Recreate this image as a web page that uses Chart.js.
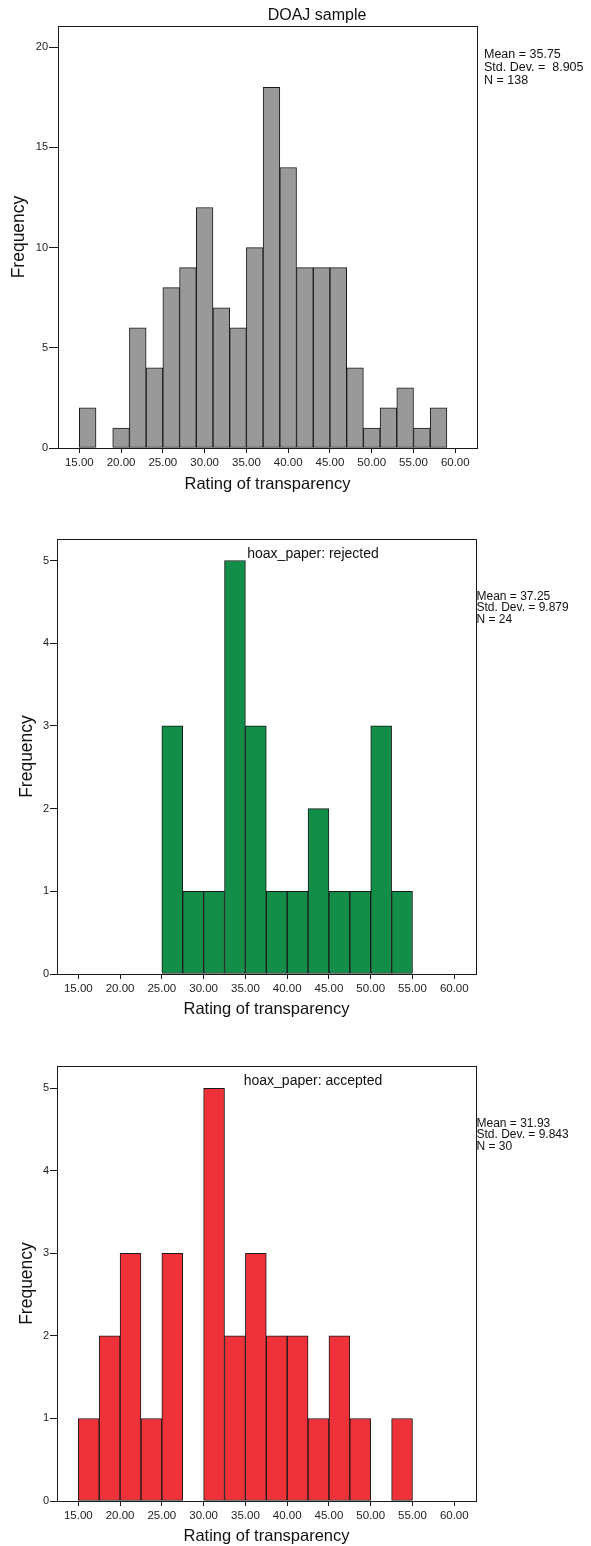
<!DOCTYPE html>
<html>
<head>
<meta charset="utf-8">
<script src="https://cdn.jsdelivr.net/npm/chart.js@4.4.1/dist/chart.umd.min.js"></script>
<style>
  body { margin: 0; background: #fff; width: 591px; height: 1546px; position: relative; overflow: hidden; }
  canvas { position: absolute; left: 0; }
</style>
</head>
<body>
<canvas id="doaj" width="591" height="505" style="top:0px"></canvas>
<canvas id="rejected" width="591" height="510" style="top:515px"></canvas>
<canvas id="accepted" width="591" height="506" style="top:1040px"></canvas>
<script>
// bins: first bin start and width, then counts per bin
const doajBinStart = 15;
const doajBinWidth = 2;
const doajCounts = [2, 0, 1, 6, 4, 8, 9, 12, 7, 6, 10, 18, 14, 9, 9, 9, 4, 1, 2, 3, 1, 2];

const hoaxBinStart = 15;
const hoaxBinWidth = 2.5;
const rejectedCounts = [0, 0, 0, 0, 3, 1, 1, 5, 3, 1, 1, 2, 1, 1, 3, 1];
const acceptedCounts = [1, 2, 3, 1, 3, 0, 5, 2, 3, 2, 2, 1, 2, 1, 0, 1];

const xTickValues = [15, 20, 25, 30, 35, 40, 45, 50, 55, 60];
const doajYTicks = [0, 5, 10, 15, 20];
const hoaxYTicks = [0, 1, 2, 3, 4, 5];

const doajStats = ['Mean = 35.75', 'Std. Dev. =  8.905', 'N = 138'];
const rejectedStats = ['Mean = 37.25', 'Std. Dev. = 9.879', 'N = 24'];
const acceptedStats = ['Mean = 31.93', 'Std. Dev. = 9.843', 'N = 30'];

const FONT = "'Liberation Sans', Arial, sans-serif";

function binPoints(start, width, counts) {
  return counts.map((c, i) => ({ x: start + width * (i + 0.5), y: c }));
}

// frame around the plot + title and stats text
const decor = {
  id: 'decor',
  afterDatasetsDraw(chart, args, opts) {
    const ctx = chart.ctx;
    const a = chart.chartArea;
    ctx.save();
    ctx.strokeStyle = '#1a1a1a';
    ctx.lineWidth = 1;
    ctx.strokeRect(Math.round(a.left) + 0.5, Math.round(a.top) + 0.5,
      Math.round(a.right - a.left), Math.round(a.bottom - a.top));
    ctx.restore();
  },
  afterDraw(chart, args, opts) {
    const ctx = chart.ctx;
    ctx.save();
    ctx.fillStyle = '#111';
    ctx.textBaseline = 'middle';
    ctx.textAlign = 'center';
    ctx.font = opts.titleSize + 'px ' + FONT;
    ctx.fillText(opts.title, opts.titleX, opts.titleY);
    ctx.textAlign = 'left';
    ctx.font = opts.statsSize + 'px ' + FONT;
    opts.stats.forEach((s, i) => ctx.fillText(s, opts.statsX, opts.statsY + i * opts.statsGap));
    ctx.restore();
  }
};

function makeHist(id, points, color, yTicks, box) {
  const H = document.getElementById(id).height;
  return new Chart(id, {
    type: 'bar',
    data: {
      datasets: [{
        data: points,
        backgroundColor: color,
        borderColor: '#1a1a1a',
        borderWidth: 1,
        borderSkipped: false,
        barPercentage: 1,
        categoryPercentage: 1
      }]
    },
    options: {
      responsive: false,
      animation: false,
      layout: { padding: { top: box.top, right: 591 - box.right, left: 0, bottom: 0 } },
      plugins: {
        legend: { display: false },
        tooltip: { enabled: false },
        decor: box.decor
      },
      scales: {
        x: {
          type: 'linear',
          offset: false,
          min: 12.45,
          max: 62.6,
          afterBuildTicks: s => { s.ticks = xTickValues.map(v => ({ value: v })); },
          afterFit: s => { s.height = H - box.bottom; },
          ticks: {
            callback: v => Number(v).toFixed(2),
            font: { family: FONT, size: 11.5 },
            color: '#222',
            padding: 3,
            maxRotation: 0,
            autoSkip: false
          },
          grid: { offset: false, drawOnChartArea: false, tickLength: 5, color: '#1a1a1a' },
          border: { color: '#1a1a1a' },
          title: {
            display: true,
            text: 'Rating of transparency',
            font: { family: FONT, size: 16.5 },
            color: '#111',
            padding: { top: 0, bottom: box.xTitlePad }
          }
        },
        y: {
          min: 0,
          max: box.ymax,
          afterBuildTicks: s => { s.ticks = yTicks.map(v => ({ value: v })); },
          afterFit: s => { s.width = box.left; },
          ticks: {
            font: { family: FONT, size: 11 },
            color: '#222',
            padding: 1
          },
          grid: { drawOnChartArea: false, tickLength: box.tickLen, color: '#1a1a1a' },
          border: { color: '#1a1a1a' },
          title: {
            display: true,
            text: 'Frequency',
            font: { family: FONT, size: 17.5 },
            color: '#111',
            padding: { top: box.yTitlePad, bottom: 0 }
          }
        }
      }
    },
    plugins: [decor]
  });
}

makeHist('doaj', binPoints(doajBinStart, doajBinWidth, doajCounts), '#999999', doajYTicks, {
  top: 26, bottom: 448, left: 58, right: 477, ymax: 21.06, tickLen: 9,
  xTitlePad: 11, yTitlePad: 9,
  decor: { title: 'DOAJ sample', titleX: 317, titleY: 15.5, titleSize: 16,
    stats: doajStats, statsX: 484, statsY: 54.5, statsGap: 12.8, statsSize: 12.5 }
});

makeHist('rejected', binPoints(hoaxBinStart, hoaxBinWidth, rejectedCounts), '#138e49', hoaxYTicks, {
  top: 24, bottom: 459, left: 57, right: 476, ymax: 5.26, tickLen: 7,
  xTitlePad: 6, yTitlePad: 16.5,
  decor: { title: 'hoax_paper: rejected', titleX: 313, titleY: 39.5, titleSize: 14,
    stats: rejectedStats, statsX: 476.5, statsY: 81.3, statsGap: 11.7, statsSize: 12 }
});

makeHist('accepted', binPoints(hoaxBinStart, hoaxBinWidth, acceptedCounts), '#ef323a', hoaxYTicks, {
  top: 26, bottom: 461, left: 57, right: 476, ymax: 5.27, tickLen: 7,
  xTitlePad: 0, yTitlePad: 16.5,
  decor: { title: 'hoax_paper: accepted', titleX: 313, titleY: 41, titleSize: 14,
    stats: acceptedStats, statsX: 476.5, statsY: 83.3, statsGap: 11.7, statsSize: 12 }
});
</script>
</body>
</html>
